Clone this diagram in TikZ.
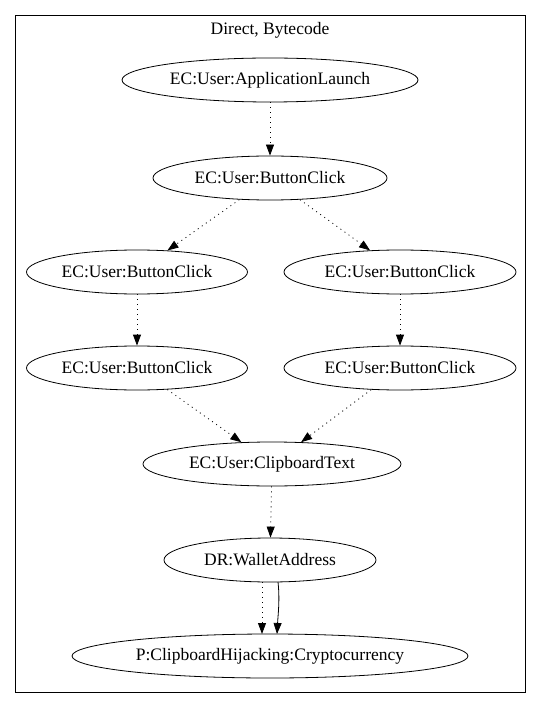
\documentclass[tikz,border=0pt]{standalone}
\usepackage{fontspec}
\setmainfont{Liberation Serif}
\usetikzlibrary{shapes.geometric,arrows.meta}
\begin{document}
\begin{tikzpicture}[x=1pt,y=-1pt,
  label font/.style={font=\fontsize{17.5}{20}\selectfont},
  state/.style={draw,ellipse,inner sep=0pt,minimum height=44,line width=0.8pt,label font},
  flow/.style={-{Triangle[length=11,width=8]},line width=0.8pt},
  dotflow/.style={flow,dash pattern=on 1pt off 4pt}]
  \useasboundingbox (0,0) rectangle (541,708);
  \draw[line width=0.8pt] (15,15) rectangle (525,692);
  \node[label font] (title) at (270,30) {Direct, Bytecode};

  \node[state,minimum width=296] (launch) at (270,80) {EC:User:ApplicationLaunch};
  \node[state,minimum width=234] (click) at (270,178) {EC:User:ButtonClick};
  \node[state,minimum width=221] (clickL1) at (137,272) {EC:User:ButtonClick};
  \node[state,minimum width=232] (clickR1) at (400,272) {EC:User:ButtonClick};
  \node[state,minimum width=221] (clickL2) at (137,368) {EC:User:ButtonClick};
  \node[state,minimum width=232] (clickR2) at (400,368) {EC:User:ButtonClick};
  \node[state,minimum width=258] (clip) at (272,464) {EC:User:ClipboardText};
  \node[state,minimum width=212] (wallet) at (270,560) {DR:WalletAddress};
  \node[state,minimum width=396] (hijack) at (270,656) {P:ClipboardHijacking:Cryptocurrency};

  \draw[dotflow] (launch) -- (click);
  \draw[dotflow] (click) -- (clickL1);
  \draw[dotflow] (click) -- (clickR1);
  \draw[dotflow] (clickL1) -- (clickL2);
  \draw[dotflow] (clickR1) -- (clickR2);
  \draw[dotflow] (clickL2) -- (clip);
  \draw[dotflow] (clickR2) -- (clip);
  \draw[dotflow] (clip) -- (wallet);

  \coordinate (wdot) at (262,582);
  \coordinate (wsolid) at (278,582);
  \coordinate (hdot) at (262,634);
  \coordinate (hsolid) at (277,634);
  \draw[dotflow] (wdot) -- (hdot);
  \draw[flow] (wsolid) .. controls (280,600) and (278,615) .. (hsolid);
\end{tikzpicture}
\end{document}
